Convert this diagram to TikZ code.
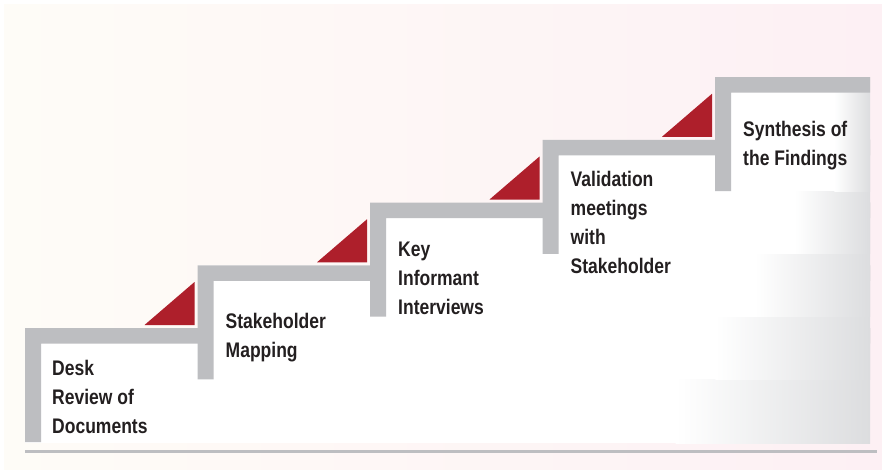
\documentclass[tikz,border=0pt]{standalone}
\usepackage{fontspec}
\setmainfont{Liberation Sans}[FakeStretch=0.83]
\definecolor{bargray}{HTML}{BDBEC1}
\definecolor{stepred}{HTML}{AE1F2B}
\definecolor{fadegray}{HTML}{DCDDDF}
\definecolor{bgcream}{HTML}{FEFCF7}
\definecolor{bgpink}{HTML}{FDF0F4}
\definecolor{textdark}{HTML}{231F20}

\begin{document}
\begin{tikzpicture}[x=0.03cm,y=-0.03cm]
    \pgfmathsetmacro{\cardright}{870}
    \pgfmathsetmacro{\barheight}{15.5}
    \pgfmathsetmacro{\postwidth}{16}
    \providecommand{\steptextsize}{\fontsize{18pt}{24.7pt}\selectfont}
    \tikzset{
        card/.style={fill=white},
        fade/.style={left color=white,right color=fadegray},
        bar/.style={fill=bargray},
        wedge/.style={fill=stepred},
        steptext/.style={anchor=north west,inner sep=0,align=left,text=textdark,font=\steptextsize\bfseries}
    }
    \useasboundingbox (0,0) rectangle (882,470);
    \shade[left color=bgcream,right color=bgpink] (4,4) rectangle (882,470);
    % step 1
    \fill[card] (25,328) rectangle (\cardright,443);
    \shade[fade] (675.7,328) rectangle (\cardright,443);
    \fill[bar] (25,328) -- (\cardright,328) -- (\cardright,328+\barheight) -- (25+\postwidth,328+\barheight) -- (25+\postwidth,442) -- (25,442) -- cycle;
    \fill[wedge] (144.5,325) -- (194.5,325) -- (194.5,282) -- cycle;
    % step 2
    \fill[card] (197.5,265.25) rectangle (\cardright,379.25);
    \shade[fade] (715.3,265.25) rectangle (\cardright,379.25);
    \fill[bar] (197.5,265.25) -- (\cardright,265.25) -- (\cardright,265.25+\barheight) -- (197.5+\postwidth,265.25+\barheight) -- (197.5+\postwidth,379.25) -- (197.5,379.25) -- cycle;
    \fill[wedge] (317,262.25) -- (367,262.25) -- (367,219.25) -- cycle;
    % step 3
    \fill[card] (370,202.5) rectangle (\cardright,316.5);
    \shade[fade] (755,202.5) rectangle (\cardright,316.5);
    \fill[bar] (370,202.5) -- (\cardright,202.5) -- (\cardright,202.5+\barheight) -- (370+\postwidth,202.5+\barheight) -- (370+\postwidth,316.5) -- (370,316.5) -- cycle;
    \fill[wedge] (489.5,199.5) -- (539.5,199.5) -- (539.5,156.5) -- cycle;
    % step 4
    \fill[card] (542.5,139.75) rectangle (\cardright,253.75);
    \shade[fade] (794.7,139.75) rectangle (\cardright,253.75);
    \fill[bar] (542.5,139.75) -- (\cardright,139.75) -- (\cardright,139.75+\barheight) -- (542.5+\postwidth,139.75+\barheight) -- (542.5+\postwidth,253.75) -- (542.5,253.75) -- cycle;
    \fill[wedge] (662,136.75) -- (712,136.75) -- (712,93.75) -- cycle;
    % step 5
    \fill[card] (715,77) rectangle (\cardright,191);
    \shade[fade] (834.4,77) rectangle (\cardright,191);
    \fill[bar] (715,77) -- (\cardright,77) -- (\cardright,77+\barheight) -- (715+\postwidth,77+\barheight) -- (715+\postwidth,191) -- (715,191) -- cycle;
    % labels
    \node[steptext] (desk) at (52,360) {Desk\\Review of\\Documents};
    \node[steptext] (mapping) at (225.5,313) {Stakeholder\\Mapping};
    \node[steptext] (interviews) at (398,242) {Key\\Informant\\Interviews};
    \node[steptext] (validation) at (570.5,171) {Validation\\meetings\\with\\Stakeholder};
    \node[steptext] (synthesis) at (743,121) {Synthesis of\\the Findings};
    \draw[bargray,line width=0.09cm] (25,451.5) -- (877,451.5);
\end{tikzpicture}
\end{document}
